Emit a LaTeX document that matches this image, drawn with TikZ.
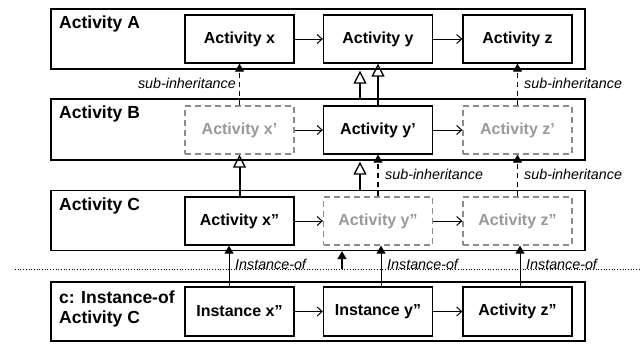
\documentclass[tikz,border=0pt]{standalone}
\usepackage{fontspec}
\setmainfont{Liberation Sans}
\usetikzlibrary{arrows.meta}
\definecolor{ghost}{HTML}{8C8C8C}
\definecolor{ghosttext}{HTML}{999999}
\tikzset{
  frame/.style={draw, line width=1.3pt, inner sep=0pt},
  actbox/.style={draw, line width=1.3pt, minimum width=109pt, minimum height=48pt, inner sep=0pt, font=\fontsize{16}{18}\selectfont\bfseries},
  ghostbox/.style={actbox, draw=ghost, dash pattern=on 6pt off 4pt, text=ghosttext},
  heading/.style={anchor=base west, inner sep=0pt, font=\fontsize{17.5}{20}\selectfont\bfseries, align=left},
  lbl/.style={inner sep=0pt, font=\fontsize{14.3}{16}\selectfont\itshape},
  harr/.style={line width=1pt, -{Straight Barb[length=5pt,width=9pt]}},
  inh/.style={line width=2pt, -{Triangle[open, length=13pt, width=13pt, line width=1.3pt]}},
  subinh/.style={line width=1.3pt, dash pattern=on 5pt off 4pt, -{Triangle[length=8pt, width=9pt]}},
  instof/.style={line width=1pt, -{Triangle[length=8pt, width=9pt]}},
}
\begin{document}
\begin{tikzpicture}[x=1pt,y=-1pt]
\useasboundingbox (0,0) rectangle (640,343);
% frames
\node[frame, minimum width=534pt, minimum height=60pt] (fA) at (318,39) {};
\node[frame, minimum width=534pt, minimum height=61pt] (fB) at (318,129.5) {};
\node[frame, minimum width=534pt, minimum height=60pt] (fC) at (318,220.5) {};
\node[frame, minimum width=534pt, minimum height=59pt] (fI) at (318,311.5) {};
% headings
\node[heading] (hA) at (59,28) {Activity A};
\node[heading] (hB) at (59,118) {Activity B};
\node[heading] (hC) at (59,210) {Activity C};
\node[heading] (hI1) at (59,303) {c: Instance-of};
\node[heading] (hI2) at (59,323) {Activity C};
% row A
\node[actbox] (ax) at (239.5,39) {Activity x};
\node[actbox] (ay) at (378,39) {Activity y};
\node[actbox] (az) at (517.5,39) {Activity z};
% row B
\node[ghostbox] (bx) at (239.5,130) {Activity x’};
\node[actbox] (by) at (378,130) {Activity y’};
\node[ghostbox] (bz) at (517.5,130) {Activity z’};
% row C
\node[actbox] (cx) at (239.5,221) {Activity x”};
\node[ghostbox] (cy) at (378,221) {Activity y”};
\node[ghostbox] (cz) at (517.5,221) {Activity z”};
% row I
\node[actbox, minimum height=49pt] (ix) at (239.5,311.5) {Instance x”};
\node[actbox, minimum height=49pt] (iy) at (378,311.5) {Instance y”};
\node[actbox, minimum height=49pt] (iz) at (517.5,311.5) {Activity z”};
% horizontal arrows
\draw[harr] (ax) -- (ay);
\draw[harr] (ay) -- (az);
\draw[harr] (bx) -- (by);
\draw[harr] (by) -- (bz);
\draw[harr] (cx) -- (cy);
\draw[harr] (cy) -- (cz);
\draw[harr] (ix) -- (iy);
\draw[harr] (iy) -- (iz);
% dotted separator
\coordinate (dl) at (15,269);
\coordinate (dr) at (640,269);
\draw[line width=0.7pt, dotted] (dl) -- (dr);
% inheritance
\coordinate (k1) at (360,0);
\draw[inh] (fB.north -| k1) -- ([yshift=-1pt]fA.south -| k1);
\draw[inh] (by) -- (ay);
\draw[inh] (cx) -- (bx);
\draw[inh] (fC.north -| k1) -- ([yshift=-1pt]fB.south -| k1);
% sub-inheritance
\draw[subinh] (bx) -- (ax);
\draw[subinh] (bz) -- (az);
\draw[subinh] (cy) -- (by);
\draw[subinh] (cz) -- (bz);
\node[lbl, anchor=east] (l1) at (236,83) {sub-inheritance};
\node[lbl, anchor=west] (l2) at (524,83) {sub-inheritance};
\node[lbl, anchor=west] (l3) at (385,174) {sub-inheritance};
\node[lbl, anchor=west] (l4) at (524,174) {sub-inheritance};
% instance-of
\coordinate (c1) at (229,0);
\coordinate (c2) at (381,0);
\coordinate (c3) at (520,0);
\coordinate (c4) at (342,269);
\draw[instof] (ix.north -| c1) -- (cx.south -| c1);
\draw[instof] (iy.north -| c2) -- (cy.south -| c2);
\draw[instof] (iz.north -| c3) -- (cz.south -| c3);
\draw[instof, line width=1.3pt] (c4) -- (fC.south -| c4);
\node[lbl, anchor=west] (m1) at (235,264) {Instance-of};
\node[lbl, anchor=west] (m2) at (387,264) {Instance-of};
\node[lbl, anchor=west] (m3) at (526,264) {Instance-of};
\end{tikzpicture}
\end{document}
